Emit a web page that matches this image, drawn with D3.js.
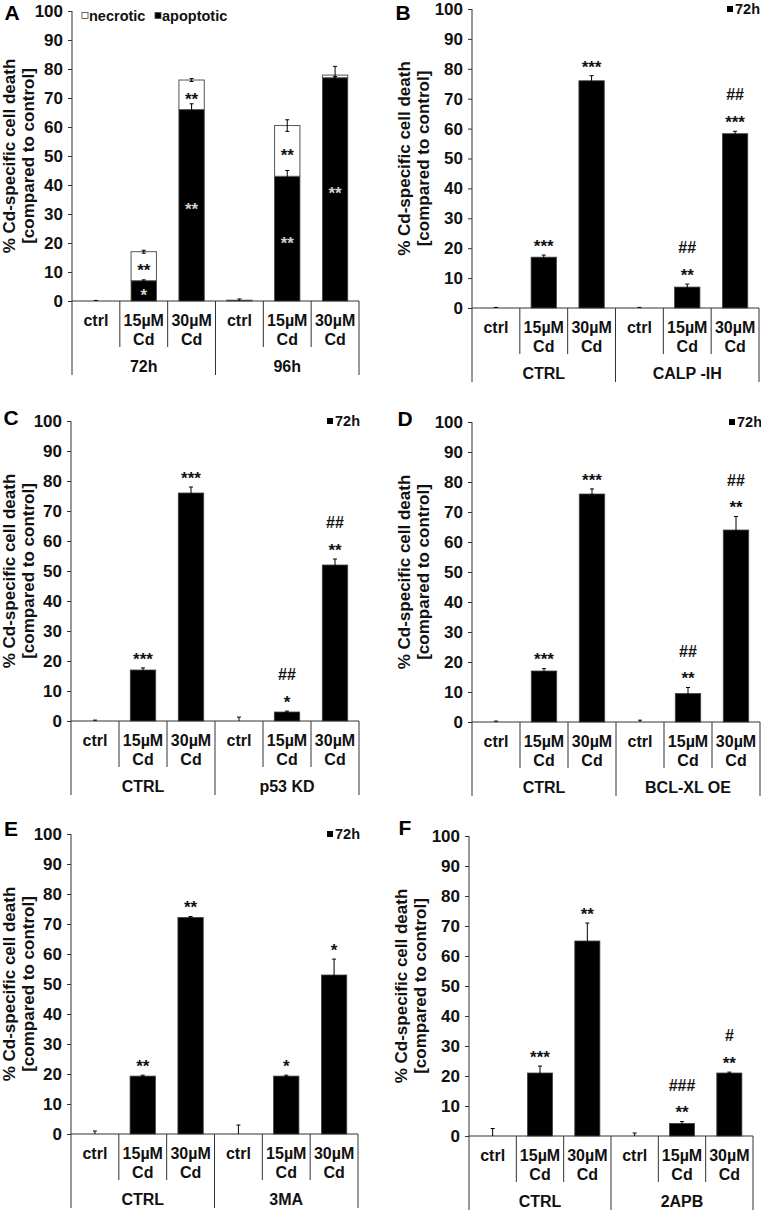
<!DOCTYPE html>
<html><head><meta charset="utf-8">
<script src="https://cdn.jsdelivr.net/npm/d3@7"></script>
<style>
body{margin:0;background:#fff}
svg{display:block;font-family:"Liberation Sans",Arial,sans-serif;font-weight:bold}
</style>
</head><body>
<svg id="c" width="761" height="1210"></svg>
<script>
// ---------- data ----------
const doseLabels = ["ctrl", "15µM Cd", "30µM Cd"];
const yTicks = [0, 10, 20, 30, 40, 50, 60, 70, 80, 90, 100];
const yTitle = ["% Cd-specific cell death", "[compared to control]"];

// Panel A (stacked: apoptotic + necrotic)
const groupsA = ["72h", "96h"];
const apoptoticA = [0, 7, 66, 0.3, 43, 77];
const apoptoticErrA = [0.2, 0.3, 2, 0.4, 2, 0.4];
const necroticA = [0, 10, 10.2, 0, 17.5, 0.9];
const totalErrA = [0, 0.5, 0.5, 0, 2, 3];
const apopSigA = ["", "*", "**", "", "**", "**"];
const necSigA = ["", "**", "**", "", "**", ""];

// Panel B
const groupsB = ["CTRL", "CALP -IH"];
const valuesB = [0, 17, 76, 0, 7, 58.3];
const errorsB = [0.2, 0.7, 1.7, 0.2, 1, 0.8];
const starsB = ["", "***", "***", "", "**", "***"];
const hashB = ["", "", "", "", "##", "##"];

// Panel C
const groupsC = ["CTRL", "p53 KD"];
const valuesC = [0, 17, 76, 0, 3, 52];
const errorsC = [0.3, 0.7, 2, 1.3, 0.3, 2];
const starsC = ["", "***", "***", "", "*", "**"];
const hashC = ["", "", "", "", "##", "##"];

// Panel D
const groupsD = ["CTRL", "BCL-XL OE"];
const valuesD = [0, 17, 76, 0, 9.5, 64];
const errorsD = [0.3, 0.8, 1.7, 0.6, 2, 4.5];
const starsD = ["", "***", "***", "", "**", "**"];
const hashD = ["", "", "", "", "##", "##"];

// Panel E
const groupsE = ["CTRL", "3MA"];
const valuesE = [0, 19.3, 72.2, 0, 19.3, 53];
const errorsE = [1, 0.3, 0.3, 3, 0.3, 5.3];
const starsE = ["", "**", "**", "", "*", "*"];
const hashE = ["", "", "", "", "", ""];

// Panel F
const groupsF = ["CTRL", "2APB"];
const valuesF = [0, 21, 65, 0, 4.2, 21];
const errorsF = [2.5, 2.3, 6, 1, 0.6, 0.3];
const starsF = ["", "***", "**", "", "**", "**"];
const hashF = ["", "", "", "", "###", "#"];

// ---------- layout ----------
const panels = [
  {letter:"A", lx:12, ly:12, x0:72, x1:359, y100:11, y0:301, groups:groupsA, stacked:true, legend:"A"},
  {letter:"B", lx:403, ly:12, x0:472, x1:759, y100:9, y0:308, groups:groupsB, values:valuesB, errors:errorsB, stars:starsB, hash:hashB, legend:{x:727, y:9}},
  {letter:"C", lx:11, ly:417, x0:71, x1:359, y100:421, y0:721, groups:groupsC, values:valuesC, errors:errorsC, stars:starsC, hash:hashC, legend:{x:327, y:421}},
  {letter:"D", lx:405, ly:418, x0:472, x1:760, y100:422, y0:722, groups:groupsD, values:valuesD, errors:errorsD, stars:starsD, hash:hashD, legend:{x:729, y:422}},
  {letter:"E", lx:11, ly:828, x0:71, x1:358, y100:834, y0:1134, groups:groupsE, values:valuesE, errors:errorsE, stars:starsE, hash:hashE, legend:{x:327, y:834}},
  {letter:"F", lx:405, ly:827, x0:469, x1:753, y100:836, y0:1136, groups:groupsF, values:valuesF, errors:errorsF, stars:starsF, hash:hashF, legend:null}
];

const svg = d3.select("#c");
const INK = "#111", LINE = "#333";
const STAR_FS = 17;

function errorBar(g, cx, y, v, e) {
  if (e <= 0) return;
  const lo = Math.max(0, v - e), hi = v + e, cap = 2;
  g.append("line").attr("x1", cx).attr("x2", cx).attr("y1", y(lo)).attr("y2", y(hi))
    .attr("stroke", "#000").attr("stroke-width", 1);
  g.append("line").attr("x1", cx - cap).attr("x2", cx + cap).attr("y1", y(hi)).attr("y2", y(hi))
    .attr("stroke", "#000").attr("stroke-width", 1);
  if (v - e > 0)
    g.append("line").attr("x1", cx - cap).attr("x2", cx + cap).attr("y1", y(lo)).attr("y2", y(lo))
      .attr("stroke", "#000").attr("stroke-width", 1);
}

function drawPanel(p) {
  const g = svg.append("g");
  const idx = d3.range(6);
  const x = d3.scaleBand().domain(idx).range([p.x0, p.x1]).padding(0);
  const y = d3.scaleLinear().domain([0, 100]).range([p.y0, p.y100]);
  const bw = x.bandwidth() * 0.53;
  const cx = i => x(i) + x.bandwidth() / 2;

  // y axis
  const ax = g.append("g").attr("transform", `translate(${p.x0},0)`)
    .call(d3.axisLeft(y).tickValues(yTicks).tickSize(4).tickPadding(5).tickSizeOuter(0));
  ax.attr("font-family", null).attr("font-size", null);
  ax.select(".domain").remove();
  ax.selectAll(".tick line").attr("stroke", LINE);
  ax.selectAll(".tick text").attr("font-size", 17).attr("font-weight", "bold").attr("fill", INK);

  // axis lines
  g.append("line").attr("x1", p.x0).attr("x2", p.x0).attr("y1", p.y100).attr("y2", p.y0 + 74)
    .attr("stroke", LINE);
  g.append("line").attr("x1", p.x0).attr("x2", p.x1).attr("y1", p.y0).attr("y2", p.y0)
    .attr("stroke", LINE);
  for (let i = 1; i <= 6; i++) {
    const xp = i < 6 ? x(i) : p.x1;
    const long = i % 3 === 0;
    g.append("line").attr("x1", xp).attr("x2", xp).attr("y1", p.y0).attr("y2", p.y0 + (long ? 74 : 46))
      .attr("stroke", LINE);
  }

  // category labels
  idx.forEach(i => {
    const parts = doseLabels[i % 3].split(" ");
    parts.forEach((t, k) => {
      g.append("text").attr("x", cx(i)).attr("y", p.y0 + 19.5 + k * 18.5)
        .attr("text-anchor", "middle").attr("dominant-baseline", "central")
        .attr("font-size", 16).attr("fill", INK).text(t);
    });
  });
  p.groups.forEach((t, k) => {
    const gx = (x(k * 3) + (k === 1 ? p.x1 : x(3))) / 2;
    g.append("text").attr("x", gx).attr("y", p.y0 + 65)
      .attr("text-anchor", "middle").attr("dominant-baseline", "central")
      .attr("font-size", 16).attr("fill", INK).text(t);
  });

  // y title
  const ymid = (p.y0 + p.y100) / 2;
  yTitle.forEach((t, k) => {
    const tx = Math.max(p.x0 - 68 + k * 19, 9 + k * 19);
    g.append("text").attr("transform", `translate(${tx},${ymid}) rotate(-90)`)
      .attr("text-anchor", "middle").attr("dominant-baseline", "central")
      .attr("font-size", 17).attr("fill", INK).text(t);
  });

  // panel letter
  g.append("text").attr("x", p.lx).attr("y", p.ly).attr("text-anchor", "middle")
    .attr("dominant-baseline", "central").attr("font-size", 21).attr("fill", "#000").text(p.letter);

  const starBase = (c) => c + 0.58 * STAR_FS;   // baseline so '*' glyph centred at c
  const hashBase = (c) => c + 0.36 * STAR_FS;   // baseline so '#' glyph centred at c

  if (p.stacked) {
    g.selectAll(".apo").data(idx).enter().append("rect")
      .attr("x", i => cx(i) - bw / 2).attr("width", bw)
      .attr("y", i => y(apoptoticA[i])).attr("height", i => y(0) - y(apoptoticA[i]))
      .attr("fill", "#000").attr("stroke", "#444").attr("stroke-width", 0.8);
    g.selectAll(".nec").data(idx.filter(i => necroticA[i] > 0)).enter().append("rect")
      .attr("x", i => cx(i) - bw / 2).attr("width", bw)
      .attr("y", i => y(apoptoticA[i] + necroticA[i]))
      .attr("height", i => y(apoptoticA[i]) - y(apoptoticA[i] + necroticA[i]))
      .attr("fill", "#fff").attr("stroke", "#555").attr("stroke-width", 1);
    idx.forEach(i => {
      errorBar(g, cx(i), y, apoptoticA[i], apoptoticErrA[i]);
      if (necroticA[i] > 0) errorBar(g, cx(i), y, apoptoticA[i] + necroticA[i], totalErrA[i]);
      if (apopSigA[i]) {
        g.append("text").attr("x", cx(i)).attr("y", starBase(y(apoptoticA[i] / 2)))
          .attr("text-anchor", "middle").attr("font-size", STAR_FS).attr("fill", "#d0d0d0").text(apopSigA[i]);
      }
      if (necSigA[i]) {
        g.append("text").attr("x", cx(i)).attr("y", starBase(y(apoptoticA[i] + necroticA[i] / 2)))
          .attr("text-anchor", "middle").attr("font-size", STAR_FS).attr("fill", INK).text(necSigA[i]);
      }
    });
  } else {
    g.selectAll(".bar").data(idx).enter().append("rect")
      .attr("x", i => cx(i) - bw / 2).attr("width", bw)
      .attr("y", i => y(p.values[i])).attr("height", i => y(0) - y(p.values[i]))
      .attr("fill", "#000").attr("stroke", "#444").attr("stroke-width", 0.8);
    idx.forEach(i => {
      errorBar(g, cx(i), y, p.values[i], p.errors[i]);
      const sc = y(p.values[i] + p.errors[i]) - 13;
      if (p.stars[i]) g.append("text").attr("x", cx(i)).attr("y", starBase(sc))
        .attr("text-anchor", "middle").attr("font-size", STAR_FS).attr("fill", INK).text(p.stars[i]);
      if (p.hash[i]) g.append("text").attr("x", cx(i)).attr("y", hashBase(sc - 24))
        .attr("text-anchor", "middle").attr("font-size", 16).attr("fill", INK).text(p.hash[i]);
    });
  }

  // legends
  if (p.legend === "A") {
    const items = [["necrotic", "#fff", 82], ["apoptotic", "#000", 155]];
    items.forEach(([t, f, lx]) => {
      g.append("rect").attr("x", lx).attr("y", 12.5).attr("width", 6).attr("height", 6)
        .attr("fill", f).attr("stroke", "#444").attr("stroke-width", 0.8);
      g.append("text").attr("x", lx + 7).attr("y", 16).attr("dominant-baseline", "central")
        .attr("font-size", 14.5).attr("fill", INK).text(t);
    });
  } else if (p.legend) {
    g.append("rect").attr("x", p.legend.x).attr("y", p.legend.y - 3).attr("width", 6).attr("height", 6)
      .attr("fill", "#000");
    g.append("text").attr("x", p.legend.x + 8).attr("y", p.legend.y).attr("dominant-baseline", "central")
      .attr("font-size", 14.5).attr("fill", INK).text("72h");
  }
}

panels.forEach(drawPanel);
</script>
</body></html>
